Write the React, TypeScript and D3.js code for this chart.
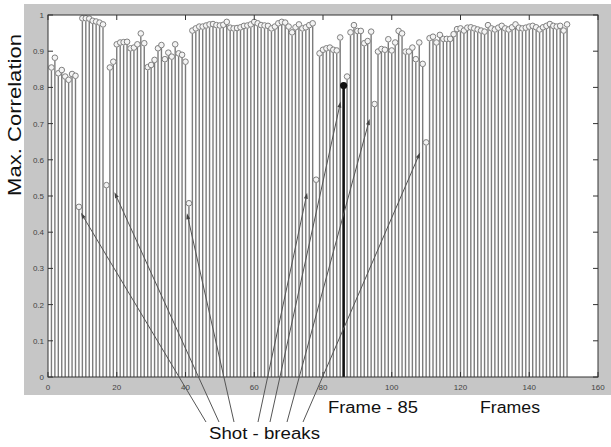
import React from "react";
import * as d3 from "d3";

// max correlation per frame (frames 1..151)
const frames = d3.range(1, 152);
const maxCorr = [
  0.855, 0.882, 0.839, 0.848, 0.830, 0.821, 0.837, 0.832, 0.470, 0.991,
  0.991, 0.990, 0.984, 0.982, 0.979, 0.974, 0.530, 0.855, 0.871, 0.919,
  0.924, 0.925, 0.926, 0.908, 0.910, 0.919, 0.949, 0.922, 0.856, 0.862,
  0.876, 0.908, 0.917, 0.878, 0.896, 0.885, 0.919, 0.894, 0.890, 0.871,
  0.480, 0.957, 0.963, 0.968, 0.968, 0.971, 0.974, 0.975, 0.972, 0.971,
  0.973, 0.981, 0.965, 0.963, 0.964, 0.966, 0.970, 0.971, 0.974, 0.981,
  0.977, 0.972, 0.971, 0.970, 0.963, 0.968, 0.977, 0.981, 0.979, 0.968,
  0.952, 0.966, 0.974, 0.963, 0.966, 0.972, 0.977, 0.545, 0.894, 0.904,
  0.908, 0.910, 0.904, 0.902, 0.938, 0.805, 0.830, 0.952, 0.972, 0.956,
  0.956, 0.922, 0.928, 0.954, 0.754, 0.899, 0.906, 0.904, 0.933, 0.902,
  0.924, 0.956, 0.949, 0.899, 0.899, 0.910, 0.878, 0.924, 0.865, 0.648,
  0.936, 0.940, 0.924, 0.945, 0.934, 0.934, 0.934, 0.947, 0.961, 0.963,
  0.957, 0.965, 0.966, 0.963, 0.960, 0.957, 0.954, 0.972, 0.963, 0.960,
  0.965, 0.970, 0.963, 0.960, 0.966, 0.974, 0.965, 0.963, 0.965, 0.968,
  0.970, 0.966, 0.960, 0.966, 0.970, 0.975, 0.970, 0.968, 0.970, 0.957,
  0.974,
];

const selectedFrame = 86;
const shotBreaks = [9, 17, 41, 78, 86, 95, 110];

const xTicks = [0, 20, 40, 60, 80, 100, 120, 140, 160];
const yTicks = [0, 0.1, 0.2, 0.3, 0.4, 0.5, 0.6, 0.7, 0.8, 0.9, 1];

// annotation layout: where each arrow leaves the "Shot - breaks" label, and tip offset from its point
const arrowLayout = [
  { tailX: 206, dx: 2, dy: 6 },
  { tailX: 219, dx: 8, dy: 7 },
  { tailX: 234, dx: -2, dy: 10 },
  { tailX: 258, dx: -9, dy: 13 },
  { tailX: 270, dx: -3, dy: 16 },
  { tailX: 287, dx: -5, dy: 15 },
  { tailX: 303, dx: -6, dy: 10 },
];

const W = 611;
const H = 447;
const plot = { left: 48, right: 598, top: 15, bottom: 377 };
const font = "'Liberation Sans', Arial, Helvetica, sans-serif";

const App: React.FC = () => {
  const x = d3.scaleLinear().domain([0, 160]).range([plot.left, plot.right]);
  const y = d3.scaleLinear().domain([0, 1]).range([plot.bottom, plot.top]);

  const data = frames.map((f, i) => ({ f, v: maxCorr[i] }));
  const tickLen = 5;

  return (
    <svg width={W} height={H} style={{ position: "absolute", left: 0, top: 0, background: "#fff" }}>
      {/* figure background */}
      <rect x={24} y={4} width={W - 24} height={391} fill="#c6c6c6" />
      <rect x={plot.left} y={plot.top} width={plot.right - plot.left} height={plot.bottom - plot.top} fill="#fff" />

      {/* stems */}
      {data.map((d) =>
        d.f === selectedFrame ? null : (
          <line key={"s" + d.f} x1={x(d.f)} x2={x(d.f)} y1={y(0)} y2={y(d.v) + 3} stroke="#7c7c7c" strokeWidth={1.4} />
        )
      )}
      {data.map((d) =>
        d.f === selectedFrame ? null : (
          <circle key={"c" + d.f} cx={x(d.f)} cy={y(d.v)} r={2.8} fill="#f4f4f4" stroke="#808080" strokeWidth={1} />
        )
      )}
      {data
        .filter((d) => d.f === selectedFrame)
        .map((d) => (
          <g key="sel">
            <line x1={x(d.f)} x2={x(d.f)} y1={y(0)} y2={y(d.v)} stroke="#111" strokeWidth={2.6} />
            <circle cx={x(d.f)} cy={y(d.v)} r={3.6} fill="#111" />
          </g>
        ))}

      {/* axes box and ticks */}
      <rect x={plot.left} y={plot.top} width={plot.right - plot.left} height={plot.bottom - plot.top} fill="none" stroke="#333" strokeWidth={1} />
      {xTicks.map((t) => (
        <g key={"xt" + t}>
          <line x1={x(t)} x2={x(t)} y1={plot.bottom} y2={plot.bottom - tickLen} stroke="#333" />
          <line x1={x(t)} x2={x(t)} y1={plot.top} y2={plot.top + tickLen} stroke="#333" />
          <text x={x(t)} y={390} textAnchor="middle" fontSize={8} fontFamily={font} fill="#444">
            {t}
          </text>
        </g>
      ))}
      {yTicks.map((t) => (
        <g key={"yt" + t}>
          <line x1={plot.left} x2={plot.left + tickLen} y1={y(t)} y2={y(t)} stroke="#333" />
          <line x1={plot.right} x2={plot.right - tickLen} y1={y(t)} y2={y(t)} stroke="#333" />
          <text x={44} y={y(t) + 3} textAnchor="end" fontSize={8} fontFamily={font} fill="#444">
            {d3.format("~g")(t)}
          </text>
        </g>
      ))}

      {/* arrows to shot breaks */}
      {shotBreaks.map((f, i) => {
        const v = maxCorr[frames.indexOf(f)];
        const a = arrowLayout[i];
        const tx = x(f) + a.dx;
        const ty = y(v) + a.dy;
        const sx = a.tailX;
        const sy = 422;
        const ang = Math.atan2(ty - sy, tx - sx);
        const L = 6;
        const w = 2;
        const bx = tx - L * Math.cos(ang);
        const by = ty - L * Math.sin(ang);
        const px = -Math.sin(ang) * w;
        const py = Math.cos(ang) * w;
        return (
          <g key={"a" + f}>
            <line x1={sx} y1={sy} x2={bx} y2={by} stroke="#555" strokeWidth={1} />
            <path d={`M${tx},${ty}L${bx + px},${by + py}L${bx - px},${by - py}Z`} fill="#444" />
          </g>
        );
      })}

      {/* labels */}
      <text
        transform="translate(21,115) rotate(-90)"
        textAnchor="middle"
        fontSize={18}
        fontFamily={font}
        fill="#111"
        textLength={162}
        lengthAdjust="spacingAndGlyphs"
      >
        Max. Correlation
      </text>
      <text x={328} y={413} fontSize={16} fontFamily={font} fill="#111" textLength={90} lengthAdjust="spacingAndGlyphs">
        Frame - 85
      </text>
      <text x={480} y={413} fontSize={16} fontFamily={font} fill="#111" textLength={60} lengthAdjust="spacingAndGlyphs">
        Frames
      </text>
      <text x={209} y={439} fontSize={16} fontFamily={font} fill="#111" textLength={111} lengthAdjust="spacingAndGlyphs">
        Shot - breaks
      </text>
    </svg>
  );
};

export default App;
